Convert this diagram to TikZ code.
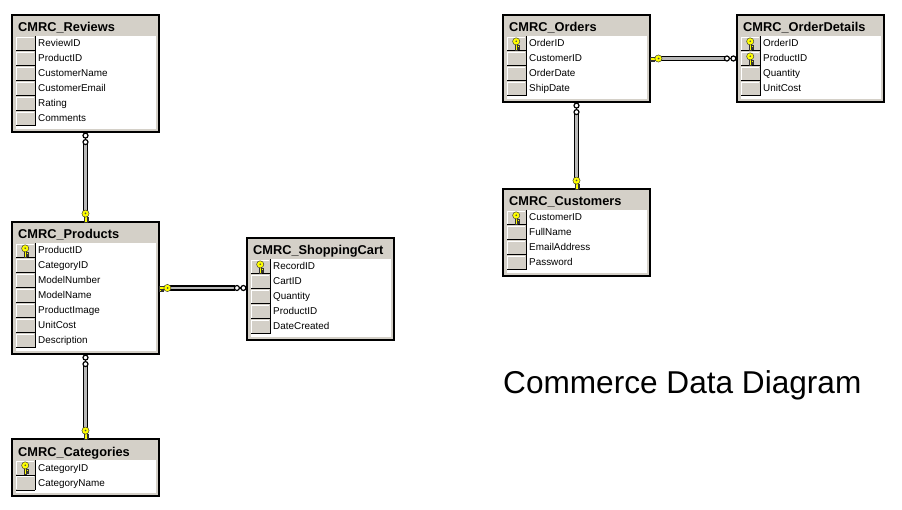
\documentclass[tikz,border=0pt]{standalone}
\usepackage{fontspec}
\setmainfont{Liberation Sans}
\usetikzlibrary{calc}
\definecolor{winGray}{HTML}{D4D0C8}
\definecolor{keyYellow}{HTML}{FFFF00}
\tikzset{
  tablebox/.style={rectangle, draw=black, line width=1.2pt, fill=winGray, minimum width=147pt, inner sep=0pt, outer sep=0pt},
  tabtitle/.style={font=\fontsize{12.8}{14}\selectfont\bfseries, anchor=base west, inner sep=0pt},
  fieldtext/.style={font=\fontsize{9.9}{11}\selectfont, anchor=base west, inner sep=0pt},
  celllines/.style={draw=black, line width=1pt},
  cellhigh/.style={draw=white, line width=0.9pt},
  pipe/.style={draw=black, line width=1.4pt, double=gray!55, double distance=2.6pt},
  bigtitle/.style={font=\fontsize{31.6}{36}\selectfont, anchor=base west, inner sep=0pt},
  keypart/.style={fill=keyYellow, draw=black!80, line width=0.45pt},
  keyicon/.pic={
    \filldraw[keypart] (-1.4,0) rectangle (1.4,-6.2);
    \filldraw[keypart] (1.4,-0.5) rectangle (3.2,-2.0);
    \filldraw[keypart] (1.4,-3.0) rectangle (2.9,-4.4);
    \filldraw[keypart] (0,-8.4) circle (3.6);
    \fill[black!70] (0,-8.6) circle (0.9);
  },
  manyend/.pic={
    \draw[line width=1.3pt] (0,5.5) -- (0,8.2);
    \draw[line width=1.2pt, fill=white] (0,3.6) circle (2.5);
    \draw[line width=1.2pt, fill=white] (0,10.1) circle (2.5);
  }
}
\newcommand\erdtab[6]{%
  \pgfmathsetmacro\tabh{21+#5*15+6}
  \node[tablebox, minimum height=\tabh pt, anchor=north west] (#1) at (#2,#3) {};
  \fill[white] (#2+4,#3+21) rectangle (#2+144,#3+\tabh-3);
  \fill[winGray] (#2+4,#3+21) rectangle (#2+23,#3+21+#5*15);
  \foreach \k/\f [count=\i] in {#6} {
    \pgfmathsetmacro\rt{#3+21+(\i-1)*15}
    \draw[cellhigh] (#2+4.5,\rt+14) -- (#2+4.5,\rt+1.2) -- (#2+22,\rt+1.2);
    \draw[celllines] (#2+4,\rt+15) -- (#2+23,\rt+15);
    \node[fieldtext] (#1-\i) at (#2+26,\rt+11) {\f};
    \ifnum\k=1 \pic at (#2+13.2,\rt+13.8) {keyicon};\fi
  }
  \draw[celllines] (#2+23,#3+21) -- (#2+23,#3+21+#5*15);
  \node[tabtitle] (#1-title) at (#2+6,#3+17) {#4};
}
\begin{document}
\begin{tikzpicture}[x=1pt,y=-1pt]
  \useasboundingbox (0,0) rectangle (902,510);
  \fill[white] (0,0) rectangle (902,510);

  \erdtab{reviews}{12}{15}{CMRC\_Reviews}{6}{0/ReviewID,0/ProductID,0/CustomerName,0/CustomerEmail,0/Rating,0/Comments}
  \erdtab{products}{12}{222}{CMRC\_Products}{7}{1/ProductID,0/CategoryID,0/ModelNumber,0/ModelName,0/ProductImage,0/UnitCost,0/Description}
  \erdtab{categories}{12}{439}{CMRC\_Categories}{2}{1/CategoryID,0/CategoryName}
  \erdtab{cart}{247}{238}{CMRC\_ShoppingCart}{5}{1/RecordID,0/CartID,0/Quantity,0/ProductID,0/DateCreated}
  \erdtab{orders}{503}{15}{CMRC\_Orders}{4}{1/OrderID,0/CustomerID,0/OrderDate,0/ShipDate}
  \erdtab{orderdetails}{737}{15}{CMRC\_OrderDetails}{4}{1/OrderID,1/ProductID,0/Quantity,0/UnitCost}
  \erdtab{customers}{503}{189}{CMRC\_Customers}{4}{1/CustomerID,0/FullName,0/EmailAddress,0/Password}

  % connectors
  \draw[pipe, shorten <=12, shorten >=10] (reviews.south) -- (products.north);
  \pic at (reviews.south) {manyend};
  \pic at (products.north) {keyicon};

  \draw[pipe, shorten <=12, shorten >=10] (products.south) -- (categories.north);
  \pic at (products.south) {manyend};
  \pic at (categories.north) {keyicon};

  \coordinate (cartin) at (products.east -| cart.west);
  \draw[pipe, shorten <=10, shorten >=12] (products.east) -- (cartin);
  \pic[rotate=-90] at (products.east) {keyicon};
  \pic[rotate=-90] at (cartin) {manyend};

  \draw[pipe, shorten <=10, shorten >=12] (orders.east) -- (orderdetails.west);
  \pic[rotate=-90] at (orders.east) {keyicon};
  \pic[rotate=-90] at (orderdetails.west) {manyend};

  \draw[pipe, shorten <=12, shorten >=10] (orders.south) -- (customers.north);
  \pic at (orders.south) {manyend};
  \pic at (customers.north) {keyicon};

  \node[bigtitle] (diagtitle) at (503,393) {Commerce Data Diagram};
\end{tikzpicture}
\end{document}
